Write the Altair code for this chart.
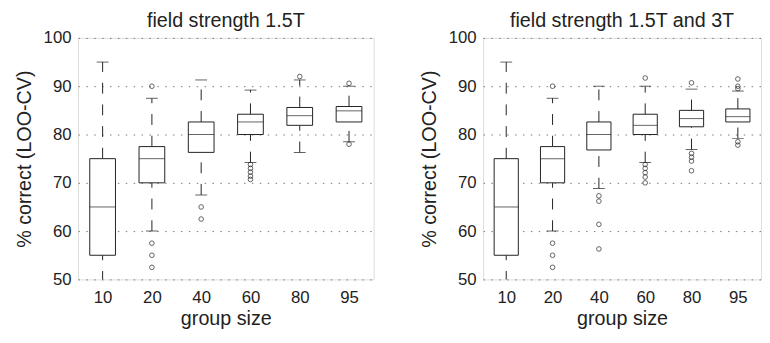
import altair as alt
import pandas as pd

groups = ["10", "20", "40", "60", "80", "95"]

# panel 1: field strength 1.5T
p1_lo = [45, 60, 67.5, 74.2, 76.3, 78.5]
p1_q1 = [55, 70, 76.3, 80.0, 81.9, 82.6]
p1_med = [65, 75, 80.0, 82.6, 83.9, 84.9]
p1_q3 = [75, 77.5, 82.6, 84.2, 85.6, 85.8]
p1_hi = [95, 87.5, 91.3, 89.2, 91.3, 90.0]
p1_out_group = ["20", "20", "20", "20", "40", "40", "60", "60", "60", "60", "60", "80", "95", "95"]
p1_out_value = [90, 57.5, 55, 52.5, 65, 62.5, 73.8, 73.0, 72.2, 71.4, 70.7, 92.0, 90.6, 78.0]

# panel 2: field strength 1.5T and 3T
p2_lo = [45, 60, 68.8, 74.2, 76.9, 79.2]
p2_q1 = [55, 70, 76.8, 80.0, 81.6, 82.6]
p2_med = [65, 75, 80.0, 81.9, 83.3, 83.7]
p2_q3 = [75, 77.5, 82.6, 84.2, 85.0, 85.3]
p2_hi = [95, 87.5, 90.0, 90.0, 89.4, 89.0]
p2_out_group = ["20", "20", "20", "20", "40", "40", "40", "40",
                "60", "60", "60", "60", "60", "60",
                "80", "80", "80", "80", "80",
                "95", "95", "95", "95", "95"]
p2_out_value = [90, 57.5, 55, 52.5, 67.3, 66.2, 61.4, 56.3,
                91.7, 73.8, 73.0, 72.1, 71.2, 70.0,
                90.7, 76.1, 75.3, 74.5, 72.5,
                91.5, 90.0, 89.5, 78.5, 77.8]

FONT = "Liberation Sans, Arial, Helvetica, sans-serif"
INK = "#222222"


def panel(title, lo, q1, med, q3, hi, og, ov, width):
    box = pd.DataFrame({"g": groups, "lo": lo, "q1": q1, "med": med, "q3": q3, "hi": hi})
    outl = pd.DataFrame({"g": og, "v": ov})
    xs = alt.X("g:N", sort=groups, scale=alt.Scale(type="point", padding=0.5),
               axis=alt.Axis(title="group size", labelAngle=0, ticks=False, domain=False,
                             labelFontSize=17, titleFontSize=20, labelFont=FONT, titleFont=FONT,
                             labelColor=INK, titleColor=INK, titleFontWeight="normal",
                             labelPadding=10, titlePadding=4))
    yscale = alt.Scale(domain=[50, 100], nice=False, zero=False)
    yaxis = alt.Axis(title="% correct (LOO-CV)", values=[50, 60, 70, 80, 90, 100],
                     ticks=False, domain=False, grid=True, gridDash=[1.5, 6.5],
                     gridColor="#777777", gridWidth=1,
                     labelFontSize=17, titleFontSize=20, labelFont=FONT, titleFont=FONT,
                     labelColor=INK, titleColor=INK, titleFontWeight="normal",
                     labelPadding=7, titlePadding=9)
    base = alt.Chart(box).encode(x=xs)
    wlo = base.mark_rule(color=INK, strokeWidth=1, strokeDash=[11, 11], clip=True).encode(
        y=alt.Y("lo:Q", scale=yscale, axis=yaxis), y2="q1:Q")
    whi = base.mark_rule(color=INK, strokeWidth=1, strokeDash=[11, 11]).encode(
        y=alt.Y("q3:Q", scale=yscale), y2="hi:Q")
    cap_lo = base.mark_tick(color=INK, size=12, thickness=1, clip=True).encode(
        y=alt.Y("lo:Q", scale=yscale))
    cap_hi = base.mark_tick(color=INK, size=12, thickness=1).encode(
        y=alt.Y("hi:Q", scale=yscale))
    bx = base.mark_bar(fill="white", stroke=INK, strokeWidth=1, size=width * 0.087).encode(
        y=alt.Y("q1:Q", scale=yscale), y2="q3:Q")
    md = base.mark_tick(color=INK, size=width * 0.087, thickness=1).encode(
        y=alt.Y("med:Q", scale=yscale))
    pts = alt.Chart(outl).mark_point(shape="circle", filled=False, color=INK, size=22,
                                     strokeWidth=1).encode(
        x=alt.X("g:N", sort=groups, scale=alt.Scale(type="point", padding=0.5)),
        y=alt.Y("v:Q", scale=yscale))
    return alt.layer(wlo, whi, cap_lo, cap_hi, bx, md, pts).properties(
        width=width, height=245,
        title=alt.TitleParams(title, fontSize=20, font=FONT, fontWeight="normal",
                              color=INK, offset=-2))


left = panel("field strength 1.5T", p1_lo, p1_q1, p1_med, p1_q3, p1_hi,
             p1_out_group, p1_out_value, 300)
right = panel("field strength 1.5T and 3T", p2_lo, p2_q1, p2_med, p2_q3, p2_hi,
              p2_out_group, p2_out_value, 282)

chart = alt.hconcat(left, right, spacing=45).properties(
    padding={"left": 6, "top": 0, "right": 0, "bottom": 0}
).configure_view(stroke="#333333", strokeWidth=1).configure(
    background="white", font=FONT
).configure_title(font=FONT, fontSize=20, fontWeight="normal", color=INK)

chart.save("out.html", embed_options={"renderer": "svg", "actions": False})
